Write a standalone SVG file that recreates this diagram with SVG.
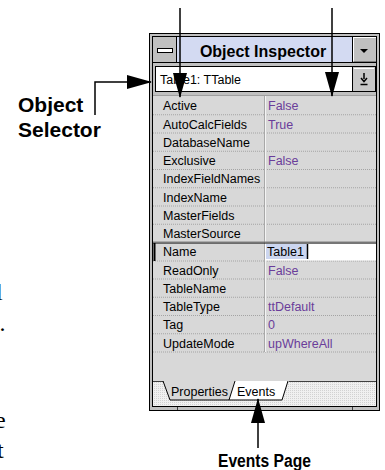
<svg xmlns="http://www.w3.org/2000/svg" width="385" height="470" viewBox="0 0 385 470">
<style>
.lbl{font-family:"Liberation Sans",Arial,sans-serif;font-weight:bold;fill:#000}
.ui{font-family:"Liberation Sans",Arial,sans-serif;font-size:12.5px;fill:#000}
.val{font-family:"Liberation Sans",Arial,sans-serif;font-size:12.5px;fill:#6a3d9a}
.sep{stroke:#a4a4a4;stroke-width:1;stroke-dasharray:1 1}
.edge{stroke:#000;stroke-width:1;fill:none}
.conn{stroke:#000;stroke-width:1.5;fill:none;marker-end:url(#ah)}
.frag{font-family:"Liberation Serif","Times New Roman",serif;font-size:24px;fill:#000}
</style>
<defs>
<marker id="ah" markerUnits="userSpaceOnUse" markerWidth="25" markerHeight="14" refX="24" refY="7" orient="auto">
<path d="M0,0 L25,7 L0,14 z" fill="#000"/>
</marker>
<pattern id="hatch" width="2" height="2" patternUnits="userSpaceOnUse">
<rect width="2" height="2" fill="#f0f0f0"/><rect width="1" height="1" fill="#d2d2d2"/>
</pattern>
</defs>
<rect width="385" height="470" fill="#fff"/>

<g id="page-fragments">
<text class="frag" x="-4" y="300">l</text>
<text class="frag" x="-0.5" y="331">.</text>
<text class="frag" x="-5" y="428">e</text>
<text class="frag" x="-3" y="458">t</text>
</g>

<g id="object-inspector">
<rect x="149.5" y="33.5" width="230" height="377" fill="#c0c0c0" stroke="#000"/>
<!-- title bar -->
<rect x="176" y="37" width="177" height="25" fill="#d3daf2"/>
<line x1="176.5" y1="36" x2="176.5" y2="62" class="edge"/>
<line x1="352.5" y1="36" x2="352.5" y2="62" class="edge"/>
<rect x="152.5" y="36.5" width="224" height="26" class="edge"/>
<rect x="157.5" y="48.5" width="15" height="4" fill="#fff" stroke="#000"/>
<line x1="354" y1="37.5" x2="376" y2="37.5" stroke="#fff"/>
<line x1="353.5" y1="37" x2="353.5" y2="61" stroke="#fff"/>
<line x1="354" y1="61.5" x2="376" y2="61.5" stroke="#808080"/>
<path d="M360,49 L368,49 L364,53 z" fill="#000"/>
<text x="263" y="57" text-anchor="middle" class="lbl" font-size="16">Object Inspector</text>
<!-- combo -->
<rect x="155.5" y="66.5" width="220" height="25" fill="#fff" stroke="#000"/>
<rect x="353" y="67" width="22" height="24" fill="#c8c8c8"/>
<line x1="352.5" y1="67" x2="352.5" y2="91" class="edge"/>
<line x1="354" y1="68.5" x2="374" y2="68.5" stroke="#fff"/>
<path d="M364,73 V79 M361,78 L364,81.5 L367,78 M360.5,84.5 H367.5" stroke="#000" stroke-width="1.5" fill="none"/>
<text class="ui" x="160" y="84">Table1: TTable</text>
<!-- grid -->
<rect x="153" y="95" width="223" height="286" fill="#d8d8d8"/>
<line x1="153" y1="95.5" x2="376" y2="95.5" stroke="#a0a0a0"/>
<g>
<line class="sep" x1="153" y1="114.75" x2="376" y2="114.75"/>
<line class="sep" x1="153" y1="133" x2="376" y2="133"/>
<line class="sep" x1="153" y1="151.25" x2="376" y2="151.25"/>
<line class="sep" x1="153" y1="169.5" x2="376" y2="169.5"/>
<line class="sep" x1="153" y1="187.75" x2="376" y2="187.75"/>
<line class="sep" x1="153" y1="206" x2="376" y2="206"/>
<line class="sep" x1="153" y1="224.25" x2="376" y2="224.25"/>
<line class="sep" x1="153" y1="279" x2="376" y2="279"/>
<line class="sep" x1="153" y1="297.25" x2="376" y2="297.25"/>
<line class="sep" x1="153" y1="315.5" x2="376" y2="315.5"/>
<line class="sep" x1="153" y1="333.75" x2="376" y2="333.75"/>
<line class="sep" x1="153" y1="352" x2="376" y2="352"/>
<line class="sep" x1="153" y1="261" x2="376" y2="261"/>
</g>
<line x1="264.5" y1="96" x2="264.5" y2="352" stroke="#a8a8a8"/>
<line x1="265.5" y1="96" x2="265.5" y2="352" stroke="#f4f4f4"/>
<!-- selected Name row -->
<rect x="265" y="243.5" width="111" height="17" fill="#fff"/>
<rect x="266" y="244" width="41" height="15" fill="#ccd6f0"/>
<line x1="307.5" y1="244" x2="307.5" y2="259" stroke="#000" stroke-width="1.5"/>
<line x1="153" y1="243" x2="376" y2="243" stroke="#000"/>
<line x1="154.5" y1="243" x2="154.5" y2="261" stroke="#000" stroke-width="2"/>
<line x1="153" y1="242" x2="376" y2="242" stroke="#808080"/>
<g class="ui">
<text x="163" y="110.25">Active</text>
<text x="163" y="128.5">AutoCalcFields</text>
<text x="163" y="146.75">DatabaseName</text>
<text x="163" y="165">Exclusive</text>
<text x="163" y="183.25">IndexFieldNames</text>
<text x="163" y="201.5">IndexName</text>
<text x="163" y="219.75">MasterFields</text>
<text x="163" y="238">MasterSource</text>
<text x="163" y="256.25">Name</text>
<text x="163" y="274.5">ReadOnly</text>
<text x="163" y="292.75">TableName</text>
<text x="163" y="311">TableType</text>
<text x="163" y="329.25">Tag</text>
<text x="163" y="347.5">UpdateMode</text>
</g>
<g class="val">
<text x="268" y="110.25">False</text>
<text x="268" y="128.5">True</text>
<text x="268" y="165">False</text>
<text x="267" y="256.25" fill="#000">Table1</text>
<text x="268" y="274.5">False</text>
<text x="268" y="311">ttDefault</text>
<text x="268" y="329.25">0</text>
<text x="268" y="347.5">upWhereAll</text>
</g>
<!-- tab strip -->
<rect x="153" y="381" width="223" height="25" fill="url(#hatch)"/>
<line x1="153" y1="381.5" x2="233" y2="381.5" stroke="#404040"/>
<line x1="289" y1="381.5" x2="376" y2="381.5" stroke="#404040"/>
<polygon points="163,381 170,400 229,400 235,381" fill="#d8d8d8"/>
<polyline points="163,381 170,400 229,400" class="edge"/>
<polygon points="235,381 288,381 282,400 229,400" fill="#fff"/>
<polyline points="235,381 229,400 282,400 288,381" class="edge"/>
<text class="ui" x="171" y="396">Properties</text>
<text class="ui" x="237" y="396">Events</text>
<line x1="152.5" y1="62" x2="152.5" y2="407" class="edge"/>
<line x1="376.5" y1="62" x2="376.5" y2="407" class="edge"/>
<line x1="152" y1="406.5" x2="377" y2="406.5" class="edge"/>
<line x1="177.5" y1="407" x2="177.5" y2="410" stroke="#404040"/>
<line x1="352.5" y1="407" x2="352.5" y2="410" stroke="#404040"/>
</g>

<g id="label-object-selector">
<text class="lbl" font-size="21" x="18" y="112">Object</text>
<text class="lbl" font-size="21" x="18" y="137">Selector</text>
</g>
<g id="label-events-page">
<text class="lbl" font-size="18" x="218" y="467" textLength="93" lengthAdjust="spacingAndGlyphs">Events Page</text>
</g>

<g id="connectors">
<line class="conn" x1="180" y1="8" x2="180" y2="97"/>
<line class="conn" x1="332" y1="8" x2="332" y2="96"/>
<path class="conn" d="M95,115 V82 H151"/>
<line class="conn" x1="258" y1="448" x2="258" y2="399"/>
</g>
</svg>
